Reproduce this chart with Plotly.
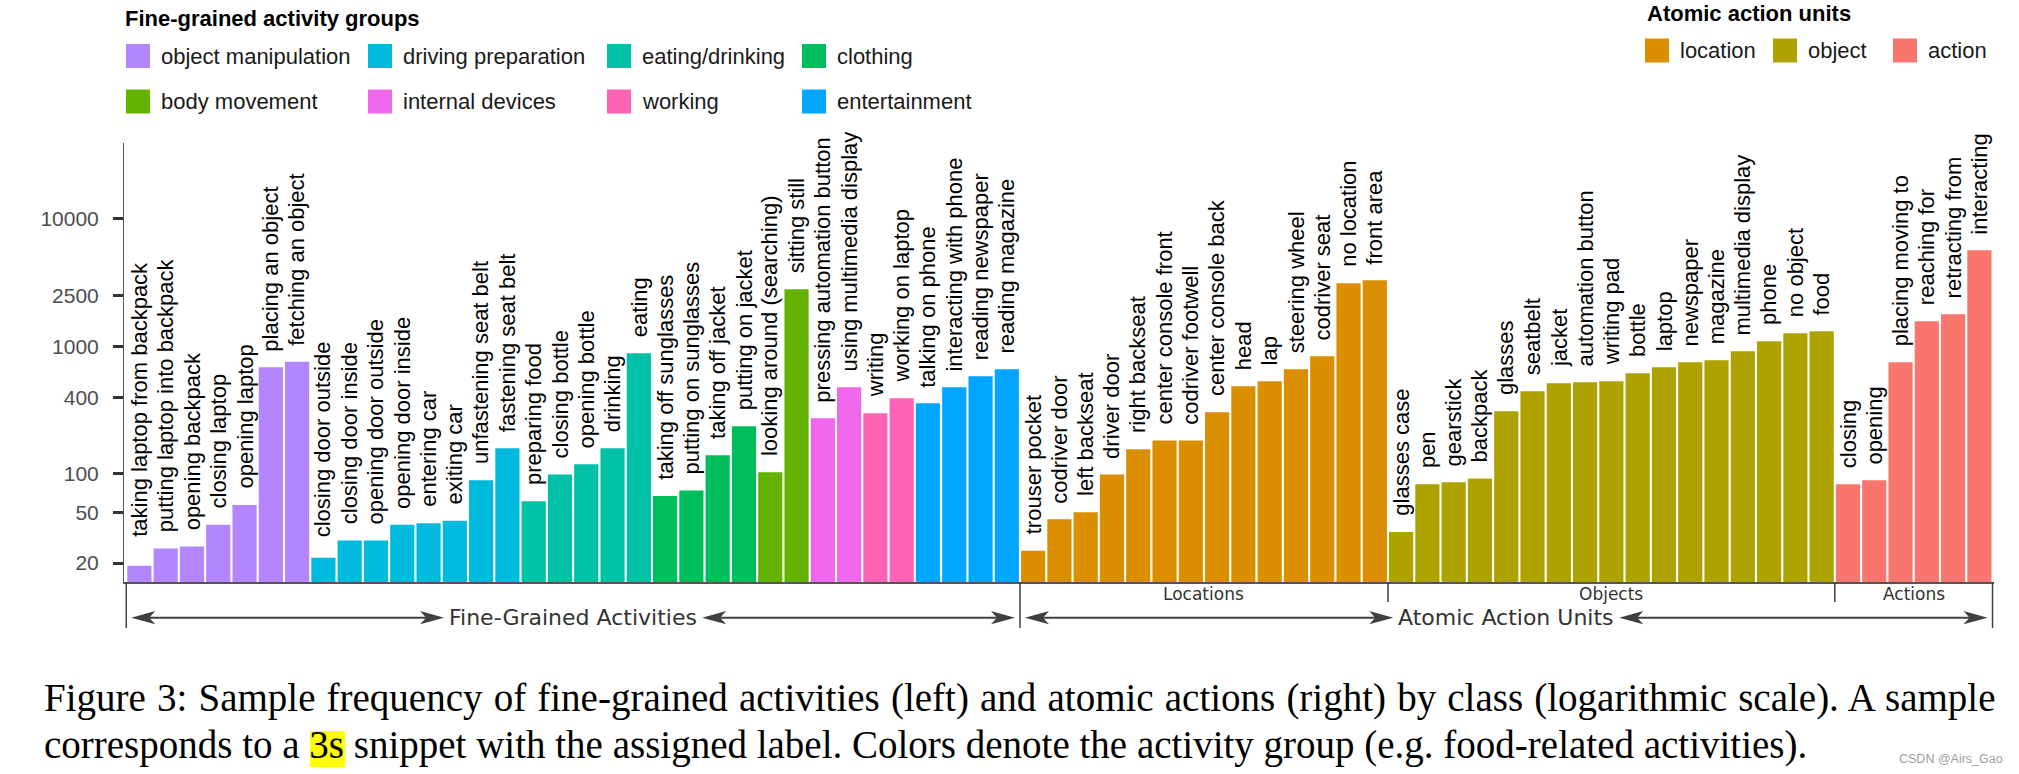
import math
import plotly.graph_objects as go

# ---------------- data ----------------
fine_labels = [
    "taking laptop from backpack", "putting laptop into backpack", "opening backpack",
    "closing laptop", "opening laptop", "placing an object", "fetching an object",
    "closing door outside", "closing door inside", "opening door outside", "opening door inside",
    "entering car", "exiting car", "unfastening seat belt", "fastening seat belt",
    "preparing food", "closing bottle", "opening bottle", "drinking", "eating",
    "taking off sunglasses", "putting on sunglasses", "taking off jacket", "putting on jacket",
    "looking around (searching)", "sitting still",
    "pressing automation button", "using multimedia display",
    "writing", "working on laptop",
    "talking on phone", "interacting with phone", "reading newspaper", "reading magazine",
]
fine_groups = (["object manipulation"] * 7 + ["driving preparation"] * 8 + ["eating/drinking"] * 5
               + ["clothing"] * 4 + ["body movement"] * 2 + ["internal devices"] * 2
               + ["working"] * 2 + ["entertainment"] * 4)
fine_values = [19, 26, 27, 40, 57, 686, 760,
               22, 30, 30, 40, 41, 43, 89, 159,
               61, 99, 119, 159, 883,
               67, 74, 140, 236,
               103, 2806,
               273, 478,
               299, 392,
               358, 478, 583, 662]

atomic_labels = [
    "trouser pocket", "codriver door", "left backseat", "driver door", "right backseat",
    "center console front", "codriver footwell", "center console back", "head", "lap",
    "steering wheel", "codriver seat", "no location", "front area",
    "glasses case", "pen", "gearstick", "backpack", "glasses", "seatbelt", "jacket",
    "automation button", "writing pad", "bottle", "laptop", "newspaper", "magazine",
    "multimedia display", "phone", "no object", "food",
    "closing", "opening", "placing moving to", "reaching for", "retracting from", "interacting",
]
atomic_groups = ["location"] * 14 + ["object"] * 17 + ["action"] * 6
atomic_values = [25, 44, 50, 99, 156, 183, 183, 304, 487, 533, 662, 837, 3128, 3302,
                 35, 83, 86, 92, 310, 445, 514, 523, 533, 615, 686, 751, 778, 916, 1097, 1268, 1314,
                 83, 89, 751, 1574, 1786, 5677]

fine_group_names = ["object manipulation", "driving preparation", "eating/drinking", "clothing",
                    "body movement", "internal devices", "working", "entertainment"]
atomic_group_names = ["location", "object", "action"]
atomic_section_titles = {"location": "Locations", "object": "Objects", "action": "Actions"}

group_colors = {
    "object manipulation": "#B385FF", "driving preparation": "#00BADE",
    "eating/drinking": "#00C1A7", "clothing": "#00BD5C", "body movement": "#64B200",
    "internal devices": "#EF67EB", "working": "#FF63B6", "entertainment": "#00A6FF",
    "location": "#DB8E00", "object": "#AEA200", "action": "#F8766D",
}

y_tick_vals = [20, 50, 100, 400, 1000, 2500, 10000]
y_tick_text = ["20", "50", "100", "400", "1000", "2500", "10000"]

fine_title = "Fine-grained activity groups"
atomic_title = "Atomic action units"
fine_section_title = "Fine-Grained Activities"
atomic_section_title = "Atomic Action Units"
caption_line1 = ("Figure 3: Sample frequency of fine-grained activities (left) and atomic actions "
                 "(right) by class (logarithmic scale). A sample")
caption_line2 = ("corresponds to a 3s snippet with the assigned label. Colors denote the activity "
                 "group (e.g. food-related activities).")
watermark = "CSDN @Airs_Gao"

# ---------------- layout geometry ----------------
W, H = 2019, 774
L, R, T, B = 124, 25, 143, 192
PW, PH = W - L - R, H - T - B
X_RANGE = [-0.586, 70.556]
Y_RANGE = [1.152, 4.596]
PPC = PW / (X_RANGE[1] - X_RANGE[0])  # pixels per category

SANS = "Liberation Sans, Arial, Helvetica, sans-serif"
DEJAVU = "DejaVu Sans, sans-serif"
SERIF = "Liberation Serif, Times New Roman, serif"
BRACKET = "#404040"


def px_x(px):
    return (px - L) / PW


def px_y(py):
    return (H - B - py) / PH


labels = fine_labels + atomic_labels
values = fine_values + atomic_values
groups = fine_groups + atomic_groups
colors = [group_colors[g] for g in groups]

fig = go.Figure()
fig.add_trace(go.Bar(x=labels, y=values, marker=dict(color=colors, line=dict(width=0)),
                     showlegend=False, hoverinfo="x+y"))

annotations = []
shapes = []

# bar labels
LABEL_FLOOR = 24
for lab, v in zip(labels, values):
    annotations.append(dict(
        x=lab, y=math.log10(max(v, LABEL_FLOOR)), xref="x", yref="y",
        text=lab, textangle=-90, showarrow=False, xanchor="center", yanchor="bottom",
        yshift=14, font=dict(family=SANS, size=22, color="black")))

# ---------------- brackets below axis ----------------
n_fine = len(fine_labels)
n_all = len(labels)
Y_AXIS_PX = H - B
ARROW_PX = 617.7
LONG_PX = 628
SHORT_PX = 602


def vline(xd, bottom_px):
    shapes.append(dict(type="line", xref="x", yref="paper", x0=xd, x1=xd,
                       y0=px_y(Y_AXIS_PX), y1=px_y(bottom_px),
                       line=dict(color=BRACKET, width=1.5)))


def arrow(xa, xb, ypx):
    yp = px_y(ypx)
    off = 12 / PPC
    shapes.append(dict(type="line", xref="x", yref="paper", x0=xa + off, x1=xb - off,
                       y0=yp, y1=yp, line=dict(color=BRACKET, width=2)))
    shapes.append(dict(type="path", xref="x", yref="paper", xsizemode="pixel", ysizemode="pixel",
                       xanchor=xa, yanchor=yp, path="M0,0 L24,6.6 L18,0 L24,-6.6 Z",
                       fillcolor=BRACKET, line=dict(width=0)))
    shapes.append(dict(type="path", xref="x", yref="paper", xsizemode="pixel", ysizemode="pixel",
                       xanchor=xb, yanchor=yp, path="M0,0 L-24,6.6 L-18,0 L-24,-6.6 Z",
                       fillcolor=BRACKET, line=dict(width=0)))


def section(x0, x1, title, half_text_px):
    xc = (x0 + x1) / 2
    pad = 5 / PPC
    half = half_text_px / PPC
    arrow(x0 + pad, xc - half, ARROW_PX)
    arrow(xc + half, x1 - pad, ARROW_PX)
    annotations.append(dict(x=xc, y=px_y(ARROW_PX), xref="x", yref="paper", text=title,
                            showarrow=False, xanchor="center", yanchor="middle",
                            font=dict(family=DEJAVU, size=22, color="#333333")))


vline(-0.5, LONG_PX)
vline(n_fine - 0.5, LONG_PX)
vline(n_all - 0.5, LONG_PX)
section(-0.5, n_fine - 0.5, fine_section_title, 129)
section(n_fine - 0.5, n_all - 0.5, atomic_section_title, 113)

# atomic sub-sections
start = 0
for i in range(1, len(atomic_groups) + 1):
    if i == len(atomic_groups) or atomic_groups[i] != atomic_groups[start]:
        a = n_fine + start - 0.5
        b = n_fine + i - 0.5
        if i != len(atomic_groups):
            vline(b, SHORT_PX)
        annotations.append(dict(x=(a + b) / 2, y=px_y(594), xref="x", yref="paper",
                                text=atomic_section_titles[atomic_groups[start]],
                                showarrow=False, xanchor="center", yanchor="middle",
                                font=dict(family=DEJAVU, size=17, color="#333333")))
        start = i

# ---------------- legends ----------------
SW = 24


def legend_item(x_px, yc_px, name):
    shapes.append(dict(type="rect", xref="paper", yref="paper",
                       x0=px_x(x_px), x1=px_x(x_px + SW),
                       y0=px_y(yc_px - SW / 2), y1=px_y(yc_px + SW / 2),
                       fillcolor=group_colors[name], line=dict(width=0)))
    annotations.append(dict(x=px_x(x_px + SW + 9), y=px_y(yc_px), xref="paper", yref="paper",
                            text=name, showarrow=False, xanchor="left", yanchor="middle",
                            font=dict(family=SANS, size=22, color="#1a1a1a")))


annotations.append(dict(x=px_x(123), y=px_y(18.5), xref="paper", yref="paper",
                        text="<b>" + fine_title + "</b>", showarrow=False, xanchor="left",
                        yanchor="middle", font=dict(family=SANS, size=22, color="black")))
left_cols = [126, 368, 607, 802]
left_rows = [56, 101.5]
for k, name in enumerate(fine_group_names):
    legend_item(left_cols[k % 4], left_rows[k // 4], name)

annotations.append(dict(x=px_x(1645), y=px_y(13.5), xref="paper", yref="paper",
                        text="<b>" + atomic_title + "</b>", showarrow=False, xanchor="left",
                        yanchor="middle", font=dict(family=SANS, size=22, color="black")))
right_cols = [1645, 1773, 1893]
for k, name in enumerate(atomic_group_names):
    legend_item(right_cols[k], 50.5, name)

# ---------------- caption ----------------
shapes.append(dict(type="rect", xref="paper", yref="paper", x0=px_x(310), x1=px_x(345),
                   y0=px_y(767), y1=px_y(731), fillcolor="#FFFF00", line=dict(width=0),
                   layer="above"))
annotations.append(dict(x=px_x(42), y=px_y(697.5), xref="paper", yref="paper",
                        text='<span style="word-spacing:1.4px">' + caption_line1 + "</span>",
                        showarrow=False, xanchor="left", yanchor="middle",
                        font=dict(family=SERIF, size=39, color="black")))
annotations.append(dict(x=px_x(42), y=px_y(745), xref="paper", yref="paper", text=caption_line2,
                        showarrow=False, xanchor="left", yanchor="middle",
                        font=dict(family=SERIF, size=39, color="black")))
annotations.append(dict(x=px_x(2005), y=px_y(759), xref="paper", yref="paper", text=watermark,
                        showarrow=False, xanchor="right", yanchor="middle",
                        font=dict(family=SANS, size=12.5, color="#a0a0a0")))

fig.update_layout(
    width=W, height=H, margin=dict(l=L, r=R, t=T, b=B, pad=0),
    paper_bgcolor="white", plot_bgcolor="white",
    bargap=0.08, showlegend=False,
    font=dict(family=SANS),
    annotations=annotations, shapes=shapes,
    xaxis=dict(type="category", range=X_RANGE, showticklabels=False, ticks="",
               showline=True, linecolor="#555555", linewidth=1.5, showgrid=False,
               zeroline=False, fixedrange=True),
    yaxis=dict(type="log", range=Y_RANGE, tickvals=y_tick_vals, ticktext=y_tick_text,
               ticks="outside", ticklen=10, tickwidth=2.5, tickcolor="#333333",
               ticklabelstandoff=10,
               tickfont=dict(family=SANS, size=21, color="#4d4d4d"),
               showline=True, linecolor="#555555", linewidth=1, showgrid=False,
               zeroline=False, fixedrange=True),
)

fig.write_html("out.html", config={"displayModeBar": False},
               post_script="document.body.style.margin='0px';")
